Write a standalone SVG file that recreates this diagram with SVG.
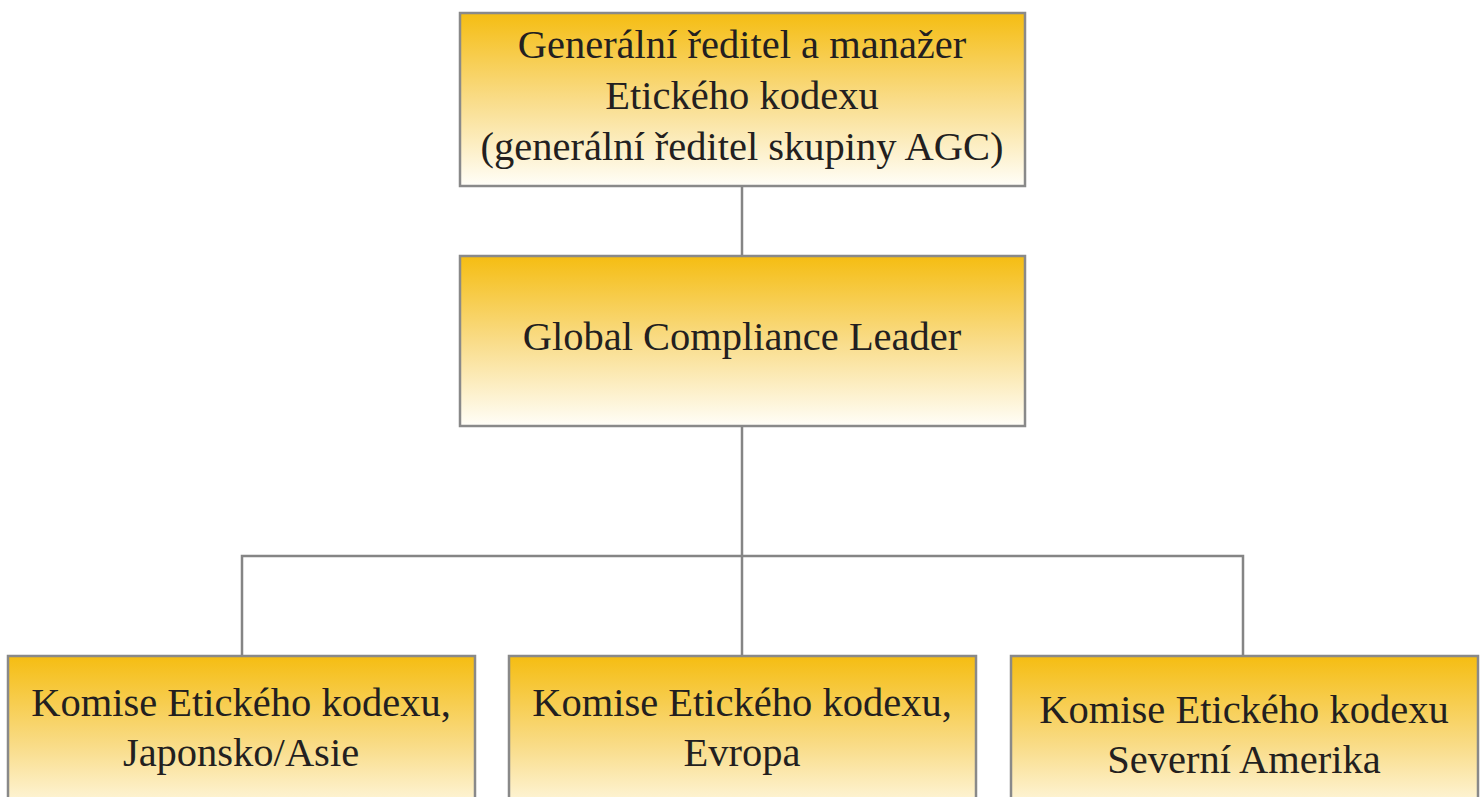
<svg xmlns="http://www.w3.org/2000/svg" width="1484" height="797" viewBox="0 0 1484 797">
<defs>
<linearGradient id="g" x1="0" y1="0" x2="0" y2="1">
<stop offset="0" stop-color="#F5BD12"/>
<stop offset="0.5" stop-color="#F9DC88"/>
<stop offset="1" stop-color="#FFFEF8"/>
</linearGradient>
<linearGradient id="gb" x1="0" y1="0" x2="0" y2="1">
<stop offset="0" stop-color="#F5BD12"/>
<stop offset="0.6" stop-color="#F9DC88"/>
<stop offset="1" stop-color="#FEF6DC"/>
</linearGradient>
<style>
.box{stroke:#898989;stroke-width:2.5}
.t{font-family:"Liberation Serif",serif;font-size:40.5px;fill:#231f20;text-anchor:middle}
.c{fill:none;stroke:#858585;stroke-width:2.5}
</style>
</defs>
<rect width="1484" height="797" fill="#fff"/>
<g id="connectors">
<path class="c" d="M742 186V256"/>
<path class="c" d="M742 426V656"/>
<path class="c" d="M242 656V556H1243V656"/>
</g>
<g id="ceo">
<rect class="box" x="460" y="13" width="565" height="173" fill="url(#g)"/>
<text class="t" x="742" y="58">Generální ředitel a manažer</text>
<text class="t" x="742" y="109">Etického kodexu</text>
<text class="t" x="742" y="160">(generální ředitel skupiny AGC)</text>
</g>
<g id="gcl">
<rect class="box" x="460" y="256" width="565" height="170" fill="url(#g)"/>
<text class="t" x="742" y="350">Global Compliance Leader</text>
</g>
<g id="japan">
<rect class="box" x="8" y="656" width="467" height="150" fill="url(#gb)"/>
<text class="t" x="241" y="716">Komise Etického kodexu,</text>
<text class="t" x="241" y="766">Japonsko/Asie</text>
</g>
<g id="europe">
<rect class="box" x="509" y="656" width="467" height="150" fill="url(#gb)"/>
<text class="t" x="742" y="716">Komise Etického kodexu,</text>
<text class="t" x="742" y="766">Evropa</text>
</g>
<g id="na">
<rect class="box" x="1011" y="656" width="467" height="150" fill="url(#gb)"/>
<text class="t" x="1244" y="723">Komise Etického kodexu</text>
<text class="t" x="1244" y="773">Severní Amerika</text>
</g>
</svg>
